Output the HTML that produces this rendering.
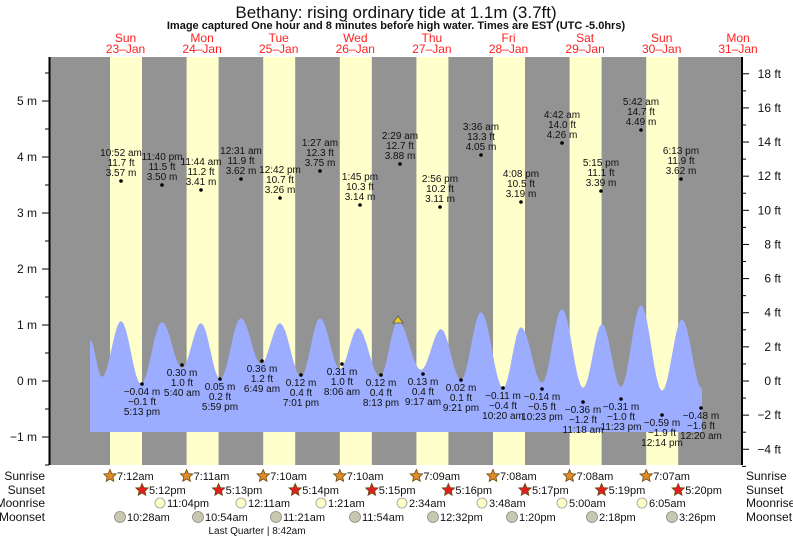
<!DOCTYPE html>
<html><head><meta charset="utf-8"><style>
body{margin:0;background:#fff;width:793px;height:539px;overflow:hidden}
svg{display:block;font-family:"Liberation Sans",sans-serif}
</style></head><body>
<svg id="s" width="793" height="539" viewBox="0 0 793 539" xmlns="http://www.w3.org/2000/svg">
<text x="396" y="18" font-size="17" text-anchor="middle" fill="#111">Bethany: rising  ordinary tide at 1.1m (3.7ft)</text>
<text x="396" y="29" font-size="11" font-weight="bold" text-anchor="middle" fill="#111">Image captured One hour and 8 minutes before high water. Times are EST (UTC -5.0hrs)</text>
<rect x="49" y="57" width="693" height="408" fill="#939393"/>
<g id="bands" fill="#ffffcc"></g>
<path id="tide" fill="#9cadff"/>
<polygon points="393,323 398,316 403,323" fill="#f0d020" stroke="#555" stroke-width="0.8"/>
<g id="ax" stroke="#000"></g>
<g id="txt" font-size="10" fill="#111" text-anchor="middle"></g>
</svg>
<script>
var NS="http://www.w3.org/2000/svg",s=document.getElementById('s');
function el(p,t,a,c){var e=document.createElementNS(NS,t);for(var k in a)e.setAttribute(k,a[k]);if(c!==undefined)e.textContent=c;p.appendChild(e);return e;}
var bands=document.getElementById('bands'),ax=document.getElementById('ax'),tx=document.getElementById('txt');
var days=[["Sun","23–Jan"],["Mon","24–Jan"],["Tue","25–Jan"],["Wed","26–Jan"],["Thu","27–Jan"],["Fri","28–Jan"],["Sat","29–Jan"],["Sun","30–Jan"],["Mon","31–Jan"]];
for(var i=0;i<9;i++){var x0=110+i*76.6;
 if(i<8)el(bands,'rect',{x:x0,y:57,width:32,height:408});
 var cx=x0+15.5;if(i==8)cx=738;
 el(s,'text',{x:cx,y:42,'font-size':12,fill:'#ff2020','text-anchor':'middle'},days[i][0]);
 el(s,'text',{x:cx,y:53,'font-size':12,fill:'#ff2020','text-anchor':'middle'},days[i][1]);}
// tide curve
var ex=[[90,340],[102,377],[121,321],[141,384],[162,322],[182,368],[201,323],[220,379],[241,318],[261,364],[280,323],[301,377],[320,318],[340,369],[358,328],[380,377],[398,321],[421,370],[441,329],[461,380],[481,312],[503,388],[521,327],[542,383],[562,309],[583,388],[602,324],[621,387],[641,305],[662,391],[682,319],[702,389]];
var d="M90,432 L90,340 ";
for(var j=0;j<ex.length-1;j++){var a=ex[j],b=ex[j+1];
 for(var t=1;t<=8;t++){var f=t/8,x=a[0]+(b[0]-a[0])*f,y=a[1]+(b[1]-a[1])*(1-Math.cos(Math.PI*f))/2;d+="L"+x.toFixed(1)+","+y.toFixed(1)+" ";}}
d+="L702,432 Z";document.getElementById('tide').setAttribute('d',d);
// axes
el(ax,'line',{x1:49.5,y1:57,x2:49.5,y2:465,'stroke-width':2});
el(ax,'line',{x1:742,y1:57,x2:742,y2:465,'stroke-width':2});
for(var m=-1.5;m<=5.5;m+=0.5){var y=381-m*56;var maj=Math.abs(m-Math.round(m))<0.01;
 el(ax,'line',{x1:maj?42:45,y1:y,x2:49,y2:y,'stroke-width':1});
 if(maj)el(s,'text',{x:37,y:y+4,'font-size':12,fill:'#111','text-anchor':'end'},(m<0?'−':'')+Math.abs(m)+' m');}
for(var f=-5;f<=18;f++){var y=381-f*0.3048*56;var maj=f%2==0;
 el(ax,'line',{x1:742,y1:y,x2:maj?749:746,y2:y,'stroke-width':1});
 if(maj)el(s,'text',{x:781,y:y+4,'font-size':12,fill:'#111','text-anchor':'end'},(f<0?'−':'')+Math.abs(f)+' ft');}
// highs
var hi=[[121,181,"10:52 am","11.7 ft","3.57 m"],[162,185,"11:40 pm","11.5 ft","3.50 m"],[201,190,"11:44 am","11.2 ft","3.41 m"],[241,179,"12:31 am","11.9 ft","3.62 m"],[280,198,"12:42 pm","10.7 ft","3.26 m"],[320,171,"1:27 am","12.3 ft","3.75 m"],[360,205,"1:45 pm","10.3 ft","3.14 m"],[400,164,"2:29 am","12.7 ft","3.88 m"],[440,207,"2:56 pm","10.2 ft","3.11 m"],[481,155,"3:36 am","13.3 ft","4.05 m"],[521,202,"4:08 pm","10.5 ft","3.19 m"],[562,143,"4:42 am","14.0 ft","4.26 m"],[601,191,"5:15 pm","11.1 ft","3.39 m"],[641,130,"5:42 am","14.7 ft","4.49 m"],[681,179,"6:13 pm","11.9 ft","3.62 m"]];
hi.forEach(function(h){el(tx,'circle',{cx:h[0],cy:h[1],r:1.8,fill:'#000'});
 for(var k=0;k<3;k++)el(tx,'text',{x:h[0],y:h[1]-25+k*10},h[2+k]);});
var lo=[[142,384,"−0.04 m","−0.1 ft","5:13 pm"],[182,365,"0.30 m","1.0 ft","5:40 am"],[220,379,"0.05 m","0.2 ft","5:59 pm"],[262,361,"0.36 m","1.2 ft","6:49 am"],[301,375,"0.12 m","0.4 ft","7:01 pm"],[342,364,"0.31 m","1.0 ft","8:06 am"],[381,375,"0.12 m","0.4 ft","8:13 pm"],[423,374,"0.13 m","0.4 ft","9:17 am"],[461,380,"0.02 m","0.1 ft","9:21 pm"],[503,388,"−0.11 m","−0.4 ft","10:20 am"],[542,389,"−0.14 m","−0.5 ft","10:23 pm"],[583,402,"−0.36 m","−1.2 ft","11:18 am"],[621,399,"−0.31 m","−1.0 ft","11:23 pm"],[662,415,"−0.59 m","−1.9 ft","12:14 pm"],[701,408,"−0.48 m","−1.6 ft","12:20 am"]];
lo.forEach(function(h){el(tx,'circle',{cx:h[0],cy:h[1],r:1.8,fill:'#000'});
 for(var k=0;k<3;k++)el(tx,'text',{x:h[0],y:h[1]+11+k*10},h[2+k]);});
// bottom rows
var rows=[["Sunrise",480],["Sunset",494],["Moonrise",507],["Moonset",521]];
rows.forEach(function(r){el(s,'text',{x:45,y:r[1],'font-size':12,fill:'#111','text-anchor':'end'},r[0]);el(s,'text',{x:746,y:r[1],'font-size':12,fill:'#111'},r[0]);});
function star(cx,cy,col){var p="";for(var k=0;k<10;k++){var rr=k%2?3:6.5,a=-Math.PI/2+k*Math.PI/5;p+=(cx+rr*Math.cos(a)).toFixed(1)+","+(cy+rr*Math.sin(a)).toFixed(1)+" ";}
 el(s,'polygon',{points:p,fill:col,stroke:'#6a4a10','stroke-width':0.8});}
var sr=["7:12am","7:11am","7:10am","7:10am","7:09am","7:08am","7:08am","7:07am"],ss=["5:12pm","5:13pm","5:14pm","5:15pm","5:16pm","5:17pm","5:19pm","5:20pm"];
for(var i=0;i<8;i++){var x0=110+i*76.6;star(x0,476,'#e08a28');el(s,'text',{x:x0+7,y:480,'font-size':11,fill:'#111'},sr[i]);
 star(x0+32,490,'#e02020');el(s,'text',{x:x0+39,y:494,'font-size':11,fill:'#111'},ss[i]);}
var mr=[[160,"11:04pm"],[241,"12:11am"],[321,"1:21am"],[402,"2:34am"],[482,"3:48am"],[562,"5:00am"],[642,"6:05am"]];
mr.forEach(function(m){el(s,'circle',{cx:m[0],cy:503,r:5,fill:'#ffffc8',stroke:'#999','stroke-width':0.8});el(s,'text',{x:m[0]+7,y:507,'font-size':11,fill:'#111'},m[1]);});
var ms=[[120,"10:28am"],[198,"10:54am"],[276,"11:21am"],[355,"11:54am"],[433,"12:32pm"],[512,"1:20pm"],[592,"2:18pm"],[672,"3:26pm"]];
ms.forEach(function(m){el(s,'circle',{cx:m[0],cy:517,r:5.5,fill:'#c8c8b0',stroke:'#888','stroke-width':0.8});el(s,'text',{x:m[0]+7,y:521,'font-size':11,fill:'#111'},m[1]);});
el(s,'text',{x:257,y:534,'font-size':10,fill:'#111','text-anchor':'middle'},"Last Quarter | 8:42am");
</script>
</body></html>
